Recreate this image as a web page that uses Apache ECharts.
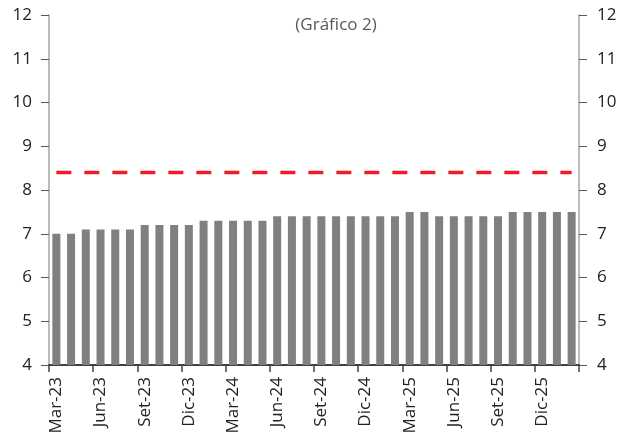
<!DOCTYPE html>
<html>
<head>
<meta charset="utf-8">
<script src="https://cdn.jsdelivr.net/npm/echarts@6/dist/echarts.min.js"></script>
<style>
html,body{margin:0;padding:0;background:#fff;}
#c{width:627px;height:441px;}
</style>
</head>
<body>
<div id="c"></div>
<script>
var categories = ["Mar-23","Abr-23","May-23","Jun-23","Jul-23","Ago-23","Set-23","Oct-23","Nov-23","Dic-23",
  "Ene-24","Feb-24","Mar-24","Abr-24","May-24","Jun-24","Jul-24","Ago-24","Set-24","Oct-24","Nov-24","Dic-24",
  "Ene-25","Feb-25","Mar-25","Abr-25","May-25","Jun-25","Jul-25","Ago-25","Set-25","Oct-25","Nov-25","Dic-25",
  "Ene-26","Feb-26"];
var barValues = [7.0,7.0,7.1,7.1,7.1,7.1,7.2,7.2,7.2,7.2,
  7.3,7.3,7.3,7.3,7.3,7.4,7.4,7.4,7.4,7.4,7.4,7.4,
  7.4,7.4,7.5,7.5,7.4,7.4,7.4,7.4,7.4,7.5,7.5,7.5,
  7.5,7.5];
var refLevel = 8.4;
var refValues = categories.map(function(){ return refLevel; });
var yTicks = [4,5,6,7,8,9,10,11,12];

var font = '"Open Sans", "Noto Sans", sans-serif';
var chart = echarts.init(document.getElementById('c'));
function yAxisFor(pos, margin) {
  return {
    type: 'value', position: pos,
    min: yTicks[0], max: yTicks[yTicks.length-1], interval: 1,
    splitLine: {show: false},
    axisLine: {show: true, lineStyle: {color: '#a6a6a6', width: 1.5}},
    axisTick: {show: true, length: 8, lineStyle: {color: '#595959', width: 1}},
    axisLabel: {color: '#222', fontSize: 17, fontFamily: font, margin: margin}
  };
}
chart.setOption({
  animation: false,
  title: {
    text: '(Gráfico 2)', left: 331, top: 12, textAlign: 'center',
    textStyle: {color: '#595959', fontSize: 17, fontWeight: 'normal', fontFamily: font}
  },
  grid: {left: 49, right: 48, top: 15, bottom: 76, containLabel: false},
  xAxis: {
    type: 'category', data: categories, boundaryGap: true,
    axisLine: {show: true, onZero: false, lineStyle: {color: '#404040', width: 2}},
    axisTick: {show: true, interval: 2, alignWithLabel: false, length: 7, lineStyle: {color: '#404040', width: 1.5}},
    axisLabel: {interval: 2, rotate: 90, color: '#222', fontSize: 17, fontFamily: font, margin: 12}
  },
  yAxis: [yAxisFor('left', 17), yAxisFor('right', 18)],
  series: [
    {
      type: 'bar', data: barValues, barWidth: 8,
      itemStyle: {color: '#808080'}
    },
    {
      type: 'line', data: refValues, symbol: 'none',
      lineStyle: {color: '#ee1c25', width: 3.5, type: [15, 13]},
      z: 5
    }
  ]
});
</script>
</body>
</html>
